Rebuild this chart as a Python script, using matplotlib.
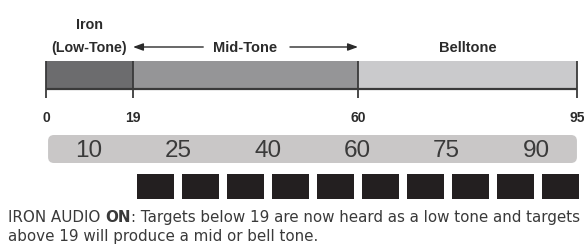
import numpy as np
import matplotlib
matplotlib.use("Agg")
import matplotlib.pyplot as plt
from matplotlib.patches import FancyBboxPatch

# ---------------- data ----------------
segment_bounds = [0, 19, 60, 95]
segment_names = ["Iron", "(Low-Tone)", "Mid-Tone", "Belltone"]
segment_colors = ["#6c6c6e", "#959597", "#cacacc"]
band_labels = ["10", "25", "40", "60", "75", "90"]
n_squares = 10
caption_prefix = "IRON AUDIO "
caption_bold = "ON"
caption_line1 = ": Targets below 19 are now heard as a low tone and targets"
caption_line2 = "above 19 will produce a mid or bell tone."

W, H = 584, 253
fig = plt.figure(figsize=(W / 100, H / 100), dpi=100)
fig.patch.set_facecolor("white")


def px_axes(x0, y0, x1, y1):
    ax = fig.add_axes([x0 / W, 1 - y1 / H, (x1 - x0) / W, (y1 - y0) / H])
    ax.set_axis_off()
    return ax


# piecewise scale: the printed scale is not linear between boundaries
seg_px = [0, 87, 312, 531]


def fwd(v):
    return np.interp(v, segment_bounds, seg_px)


def inv(p):
    return np.interp(p, seg_px, segment_bounds)


LBL = dict(family="Liberation Sans", fontweight="bold", color="#2b2b2b")

# ---------------- scale bar ----------------
ax = px_axes(46, 0, 577, 130)
ax.set_xscale("function", functions=(fwd, inv))
ax.set_xlim(segment_bounds[0], segment_bounds[-1])
ax.set_ylim(130, 0)

lefts = segment_bounds[:-1]
widths = np.diff(segment_bounds)
ax.barh(76, widths, left=lefts, height=28, color=segment_colors, edgecolor="none")
ax.hlines(90, segment_bounds[0], segment_bounds[-1], color="#3a3a3a", lw=1.6, clip_on=False)
ax.vlines(segment_bounds, 62, 99, color="#3a3a3a", lw=1.3, clip_on=False)

for b in segment_bounds:
    ax.text(b, 118, str(b), ha="center", va="center", fontsize=10, clip_on=False, **LBL)

mids = [(a + b) / 2 for a, b in zip(segment_bounds[:-1], segment_bounds[1:])]
ax.text(mids[0], 25, segment_names[0], ha="center", va="center", fontsize=10.3, **LBL)
ax.text(mids[0], 48, segment_names[1], ha="center", va="center", fontsize=10.3, **LBL)
ax.text(mids[1], 48, segment_names[2], ha="center", va="center", fontsize=10.5, **LBL)
ax.text(mids[2], 48, segment_names[3], ha="center", va="center", fontsize=10.5, **LBL)

arrow = dict(arrowstyle="-|>,head_length=0.6,head_width=0.22", color="#2b2b2b", lw=1.0,
             shrinkA=0, shrinkB=0)
ax.annotate("", xy=(segment_bounds[1], 48), xytext=(31.8, 48), arrowprops=arrow)
ax.annotate("", xy=(segment_bounds[2], 48), xytext=(47.6, 48), arrowprops=arrow)

# ---------------- number band ----------------
axb = px_axes(44.3, 136, 580.7, 164)
axb.set_xlim(-0.5, len(band_labels) - 0.5)
axb.set_ylim(0, 1)
bw_px, bh_px = 536.4, 28
band = FancyBboxPatch((0.007, 0), 0.986, 1, transform=axb.transAxes,
                      boxstyle="round,pad=0,rounding_size=0.011",
                      mutation_aspect=bw_px / bh_px,
                      facecolor="#c9c7c7", edgecolor="none", clip_on=False)
axb.add_patch(band)
for i, t in enumerate(band_labels):
    axb.text(i, 0.47, t, ha="center", va="center", fontsize=17.5,
             family="Liberation Sans", color="#3a3a3a")

# ---------------- squares ----------------
axs = px_axes(133, 175, 583, 200)
axs.set_xlim(-0.5, n_squares - 0.5)
axs.set_ylim(0, 1)
axs.bar(np.arange(n_squares), 1, width=0.82, bottom=0, color="#231f20")

# ---------------- caption ----------------
CAP = dict(family="DejaVu Sans", fontsize=10.9, color="#3a3a3a")
t1 = fig.text(8 / W, 1 - 222 / H, caption_prefix, va="baseline", ha="left", **CAP)
a1 = fig.text(0, 0, "", **CAP)
a1 = plt.annotate(caption_bold, xy=(1, 0), xycoords=t1, va="bottom", ha="left",
                  fontweight="bold", annotation_clip=False, **CAP)
a2 = plt.annotate(caption_line1, xy=(1, 0), xycoords=a1, va="bottom", ha="left",
                  annotation_clip=False, **CAP)
fig.text(8 / W, 1 - 241 / H, caption_line2, va="baseline", ha="left", **CAP)

fig.savefig("out.png", dpi=100)
